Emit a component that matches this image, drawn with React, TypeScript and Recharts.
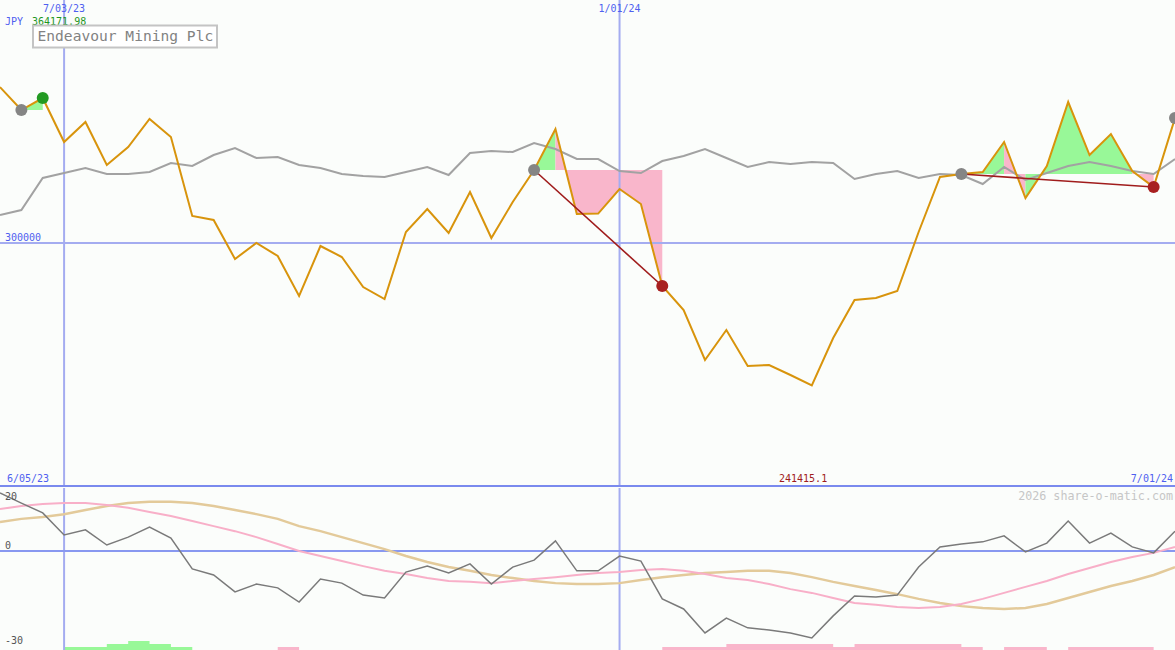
import React from 'react';
import { ComposedChart, Line, Area, XAxis, YAxis, ReferenceLine } from 'recharts';

// ---------- data ----------
const prices = [
  364171.98, 354730, 359668, 341562, 349792, 332097, 339504, 351026, 343619, 311111,
  309465, 293416, 300000, 294651, 278191, 298766, 294239, 281894, 276956, 304527,
  313991, 304115, 320987, 302058, 316872, 330040, 346911, 311934, 312100, 322221,
  316049, 282306, 272430, 251855, 264200, 249386, 249800, 245682, 241415.1, 260908,
  276545, 277368, 280248, 304527, 327159, 328394, 329217, 341562, 318518, 331686,
  358022, 336212, 344854, 329628, 323044, 351438,
];
const benchmark = [
  311522, 313580, 326748, 328805, 330863, 328394, 328394, 329217, 332920, 331686,
  336212, 339093, 334978, 335389, 332097, 330863, 328394, 327571, 327159, 329217,
  331274, 327982, 337035, 337858, 337447, 341150, 338681, 334566, 334566, 329628,
  328805, 333743, 335801, 338681, 334978, 331274, 333332, 332509, 333332, 332920,
  326336, 328394, 329628, 326748, 328394, 327982, 324279, 331274, 325925, 328805,
  331686, 333332, 331686, 329628, 328394, 334566,
];
const momentum = [
  18.4, 15.2, 12.1, 5.1, 6.7, 1.9, 4.4, 7.6, 4.1, -5.7,
  -7.6, -13.0, -10.5, -11.7, -16.2, -8.9, -10.2, -14.0, -14.9, -6.7,
  -4.8, -7.0, -4.1, -10.5, -5.1, -2.9, 3.2, -6.3, -6.3, -1.6,
  -3.2, -15.2, -18.4, -26.0, -21.3, -24.4, -25.1, -26.0, -27.6, -20.6,
  -14.3, -14.6, -14.0, -5.1, 1.3, 2.2, 2.9, 4.8, -0.3, 2.5,
  9.5, 2.5, 5.7, 1.3, -0.6, 6.3,
];
const fastAvg = [
  13.3, 14.3, 14.9, 15.2, 15.2, 14.6, 13.7, 12.4, 11.1, 9.5,
  7.9, 6.3, 4.4, 2.2, 0, -1.6, -3.2, -4.8, -6.3, -7.3,
  -8.6, -9.5, -9.8, -10.2, -9.5, -8.9, -8.3, -7.6, -7.0, -6.7,
  -6.0, -5.7, -6.3, -7.3, -8.6, -9.2, -10.5, -12.1, -13.3, -14.9,
  -16.5, -17.1, -17.8, -18.1, -17.8, -16.8, -15.2, -13.3, -11.4, -9.5,
  -7.3, -5.4, -3.5, -1.9, -0.6, 1.3,
];
const slowAvg = [
  9.2, 10.2, 10.8, 11.7, 13.0, 14.3, 15.2, 15.6, 15.6, 15.2,
  14.3, 13.0, 11.7, 10.2, 7.9, 6.3, 4.4, 2.5, 0.6, -1.6,
  -3.5, -5.1, -6.3, -7.6, -8.6, -9.5, -10.2, -10.5, -10.5, -10.2,
  -9.2, -8.3, -7.6, -7.0, -6.7, -6.3, -6.3, -7.0, -8.3, -9.8,
  -11.1, -12.4, -13.7, -15.2, -16.5, -17.5, -18.1, -18.4, -18.1, -16.8,
  -14.9, -13.0, -11.1, -9.5, -7.6, -5.1,
];
const buySignal = [
  0, 0, 0, 1, 1, 2, 3, 2, 1, 0,
  0, 0, 0, 0, 0, 0, 0, 0, 0, 0,
  0, 0, 0, 0, 0, 0, 0, 0, 0, 0,
  0, 0, 0, 0, 0, 0, 0, 0, 0, 0,
  0, 0, 0, 0, 0, 0, 0, 0, 0, 0,
  0, 0, 0, 0, 0, 0,
];
const sellSignal = [
  0, 0, 0, 0, 0, 0, 0, 0, 0, 0,
  0, 0, 0, 1, 0, 0, 0, 0, 0, 0,
  0, 0, 0, 0, 0, 0, 0, 0, 0, 0,
  0, 1, 1, 1, 2, 2, 2, 2, 2, 1,
  2, 2, 2, 2, 2, 1, 0, 1, 1, 0,
  1, 1, 1, 1, 0, 0,
];
const tradeStarts = [1, 25, 45];
const tradeEnds = [2, 31, 54];
const openTrades = [55];
const dateMarkIdx = [3, 29];
const dateMarkLabels = ['7/03/23', '1/01/24'];
const priceLevel = 300000;
const priceDomain = [200000, 400000];
const oscDomain = [-31.43, 20];
const oscLabels = [20, 0, -30];
const currency = 'JPY';
const companyName = 'Endeavour Mining Plc';
const rangeStartLabel = '6/05/23';
const rangeEndLabel = '7/01/24';
const watermark = '2026 share-o-matic.com';

// ---------- styles ----------
const W = 1175;
const UPPER_H = 486;
const LOWER_TOP = 488;
const LOWER_H = 162;
const BG = '#fbfdfb';
const GRID = '#a4acf0';
const ZERO = '#8898f0';
const SEP = '#7a8aee';
const BLUE = '#4f5ff0';
const MONO = '"DejaVu Sans Mono", "Liberation Mono", monospace';
const ORANGE = '#d8940c';
const BENCH = '#a2a2a2';
const GAIN_FILL = '#98f898';
const LOSS_FILL = '#f9b6cb';
const DARKRED = '#a01c1c';
const RED_MARK = '#a82020';
const GREEN_MARK = '#229a22';
const GRAY_MARK = '#858585';
const TAN = '#e3ca9a';
const PINK = '#f8afc8';
const MOM = '#7a7a7a';

// ---------- derived chart rows ----------
const N = prices.length;
type Run = { key: string; color: string; from: number; to: number; base: number };
const runs: Run[] = [];
tradeStarts.forEach((s, t) => {
  const e = tradeEnds[t];
  const base = prices[s];
  let cur: Run | null = null;
  for (let k = s; k < e; k++) {
    const color = prices[k + 1] >= base ? GAIN_FILL : LOSS_FILL;
    if (cur && cur.color === color) cur.to = k + 1;
    else {
      cur = { key: `fill${runs.length}`, color, from: k, to: k + 1, base };
      runs.push(cur);
    }
  }
});
const lossTrades = tradeStarts
  .map((s, t) => ({ s, e: tradeEnds[t] }))
  .filter((t) => prices[t.e] < prices[t.s]);
const gainTrades = tradeStarts
  .map((s, t) => ({ s, e: tradeEnds[t] }))
  .filter((t) => prices[t.e] >= prices[t.s]);

const upperData = prices.map((p, i) => {
  const row: Record<string, any> = { i, price: p, bench: benchmark[i] };
  runs.forEach((r) => {
    row[r.key] = i >= r.from && i <= r.to ? [r.base, p] : null;
  });
  row.openMark = tradeStarts.includes(i) || openTrades.includes(i) ? p : null;
  row.lossMark = lossTrades.some((t) => t.e === i) ? p : null;
  row.gainMark = gainTrades.some((t) => t.e === i) ? p : null;
  lossTrades.forEach((t, k) => {
    row[`lossLine${k}`] = i === t.s || i === t.e ? p : null;
  });
  return row;
});

const lowerData = momentum.map((m, i) => ({
  i,
  mom: m,
  fast: fastAvg[i],
  slow: slowAvg[i],
  buy: buySignal[i],
  sell: sellSignal[i],
}));

const maxPrice = Math.max(...prices);
const minPrice = Math.min(...prices);

const labelStyle = { fill: BLUE, fontSize: 10, fontFamily: MONO };
const oscLabelStyle = { fill: '#555555', fontSize: 10, fontFamily: MONO };

export default function App() {
  return (
    <div style={{ position: 'relative', width: W, height: 650, background: BG, overflow: 'hidden' }}>
      <style>{'body{margin:0;}'}</style>
      <div style={{ position: 'absolute', left: 0, top: 0 }}>
        <ComposedChart width={W} height={UPPER_H} data={upperData} margin={{ top: 0, right: 0, bottom: 0, left: 0 }}>
          <XAxis dataKey="i" type="number" domain={[0, N - 1]} hide />
          <YAxis type="number" domain={priceDomain} hide allowDataOverflow />
          {runs.map((r) => (
            <Area
              key={r.key}
              dataKey={r.key}
              type="linear"
              fill={r.color}
              fillOpacity={1}
              stroke="none"
              dot={false}
              activeDot={false}
              isAnimationActive={false}
            />
          ))}
          {dateMarkIdx.map((x, k) => (
            <ReferenceLine
              key={`d${k}`}
              x={x}
              stroke={GRID}
              strokeWidth={2}
              label={{ value: dateMarkLabels[k], position: 'insideTop', offset: 5, ...labelStyle }}
            />
          ))}
          <ReferenceLine
            y={priceLevel}
            stroke={GRID}
            strokeWidth={2}
            label={{ value: String(priceLevel), position: 'insideBottomLeft', offset: 2, dx: 3, ...labelStyle }}
          />
          <Line dataKey="bench" type="linear" stroke={BENCH} strokeWidth={2} dot={false} activeDot={false} isAnimationActive={false} />
          <Line dataKey="openMark" stroke="none" dot={{ r: 6, fill: GRAY_MARK, stroke: 'none' }} activeDot={false} isAnimationActive={false} />
          <Line dataKey="lossMark" stroke="none" dot={{ r: 6, fill: RED_MARK, stroke: 'none' }} activeDot={false} isAnimationActive={false} />
          <Line dataKey="gainMark" stroke="none" dot={{ r: 6, fill: GREEN_MARK, stroke: 'none' }} activeDot={false} isAnimationActive={false} />
          <Line dataKey="price" type="linear" stroke={ORANGE} strokeWidth={2} dot={false} activeDot={false} isAnimationActive={false} />
          {lossTrades.map((t, k) => (
            <Line
              key={`ll${k}`}
              dataKey={`lossLine${k}`}
              type="linear"
              connectNulls
              stroke={DARKRED}
              strokeWidth={1.6}
              dot={false}
              activeDot={false}
              isAnimationActive={false}
            />
          ))}
        </ComposedChart>
      </div>
      <div style={{ position: 'absolute', left: 0, top: 485, width: W, height: 2, background: SEP }} />
      <div style={{ position: 'absolute', left: 0, top: LOWER_TOP }}>
        <ComposedChart width={W} height={LOWER_H} data={lowerData} margin={{ top: 0, right: 0, bottom: 0, left: 0 }}>
          <XAxis dataKey="i" type="number" domain={[0, N - 1]} hide />
          <YAxis yAxisId="osc" type="number" domain={oscDomain} hide allowDataOverflow />
          <YAxis yAxisId="sig" type="number" domain={[0, 54]} hide allowDataOverflow />
          <Area yAxisId="sig" dataKey="buy" type="stepAfter" fill={GAIN_FILL} fillOpacity={1} stroke="none" dot={false} activeDot={false} isAnimationActive={false} />
          <Area yAxisId="sig" dataKey="sell" type="stepAfter" fill={LOSS_FILL} fillOpacity={1} stroke="none" dot={false} activeDot={false} isAnimationActive={false} />
          {dateMarkIdx.map((x, k) => (
            <ReferenceLine key={`ld${k}`} yAxisId="osc" x={x} stroke={GRID} strokeWidth={2} />
          ))}
          <ReferenceLine
            yAxisId="osc"
            y={oscLabels[0]}
            stroke="none"
            label={{ value: String(oscLabels[0]), position: 'insideTopLeft', offset: 5, ...oscLabelStyle }}
          />
          <ReferenceLine
            yAxisId="osc"
            y={oscLabels[1]}
            stroke={ZERO}
            strokeWidth={2}
            label={{ value: String(oscLabels[1]), position: 'insideBottomLeft', offset: 2, dx: 3, ...oscLabelStyle }}
          />
          <ReferenceLine
            yAxisId="osc"
            y={oscLabels[2]}
            stroke="none"
            label={{ value: String(oscLabels[2]), position: 'insideBottomLeft', offset: 1, dx: 4, ...oscLabelStyle }}
          />
          <Line yAxisId="osc" dataKey="slow" type="linear" stroke={TAN} strokeWidth={2.5} dot={false} activeDot={false} isAnimationActive={false} />
          <Line yAxisId="osc" dataKey="fast" type="linear" stroke={PINK} strokeWidth={2} dot={false} activeDot={false} isAnimationActive={false} />
          <Line yAxisId="osc" dataKey="mom" type="linear" stroke={MOM} strokeWidth={1.5} dot={false} activeDot={false} isAnimationActive={false} />
        </ComposedChart>
      </div>
      <svg
        width={W}
        height={650}
        style={{ position: 'absolute', left: 0, top: 0, pointerEvents: 'none' }}
      >
        <text x={5} y={25} fill={BLUE} fontSize={10} fontFamily={MONO}>{currency}</text>
        <text x={32} y={25} fill="#1e961e" fontSize={10} fontFamily={MONO}>{maxPrice.toFixed(2)}</text>
        <rect x={33} y={25.5} width={184} height={22} fill="#ffffff" stroke="#c4c4c4" strokeWidth={2} />
        <text x={37.5} y={41} fill="#828282" fontSize={14.6} fontFamily={MONO}>{companyName}</text>
        <text x={7} y={482} fill={BLUE} fontSize={10} fontFamily={MONO}>{rangeStartLabel}</text>
        <text x={779} y={482} fill="#a01c1c" fontSize={10} fontFamily={MONO}>{String(minPrice)}</text>
        <text x={1173} y={482} textAnchor="end" fill={BLUE} fontSize={10} fontFamily={MONO}>{rangeEndLabel}</text>
        <text x={1173} y={500} textAnchor="end" fill="#c6c6c6" fontSize={11.7} fontFamily={MONO}>{watermark}</text>
      </svg>
    </div>
  );
}
